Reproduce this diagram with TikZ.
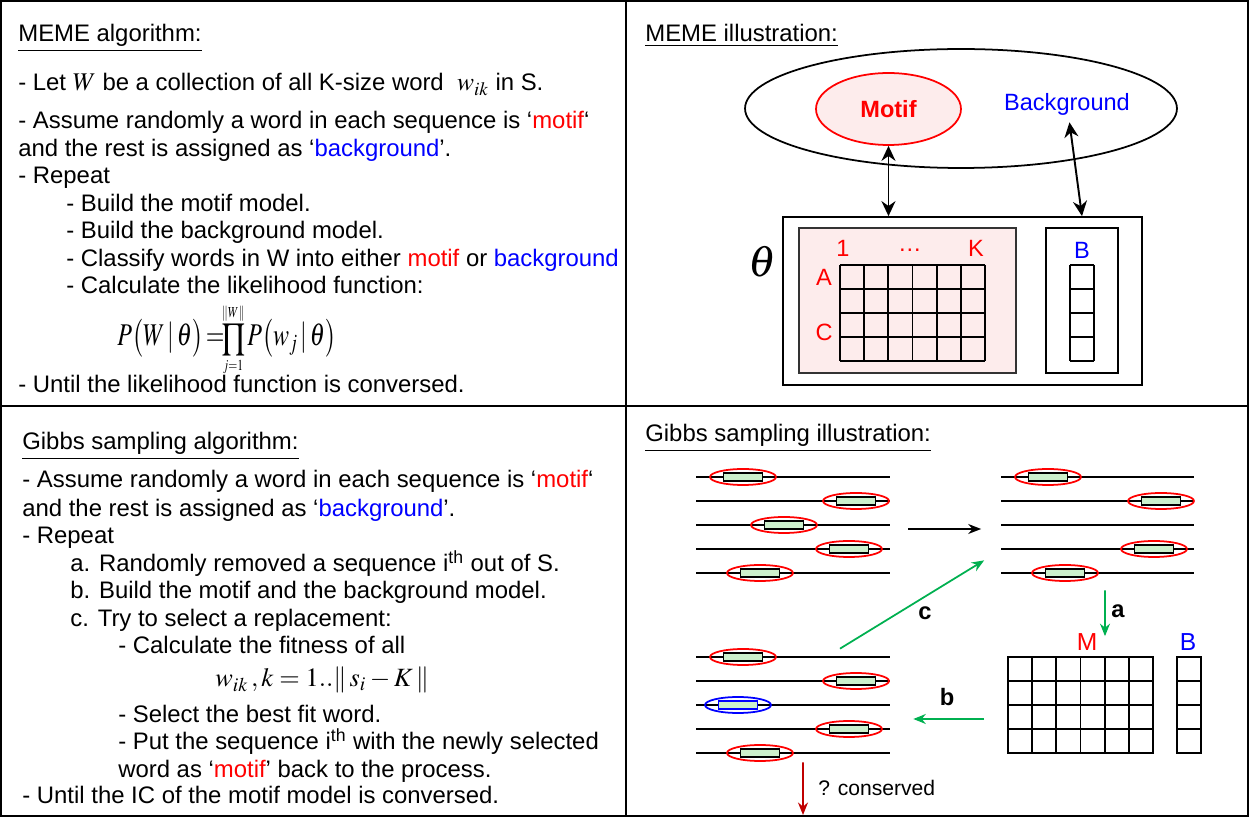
\documentclass[tikz,border=0pt]{standalone}
\usepackage{mathptmx}
\usepackage[no-math]{fontspec}
\setmainfont{Liberation Sans}
\usepackage{xcolor}
\usepackage{graphicx}
\usetikzlibrary{arrows.meta,shapes.geometric,positioning}
\definecolor{motifred}{RGB}{255,0,0}
\definecolor{bgblue}{RGB}{0,0,255}
\definecolor{arrgreen}{RGB}{0,176,80}
\definecolor{arrdark}{RGB}{192,0,0}
\definecolor{pinkfill}{RGB}{253,236,236}
\definecolor{wordfill}{RGB}{204,240,204}
\newcommand{\mtf}[1]{\textcolor{motifred}{#1}}
\newcommand{\bkg}[1]{\textcolor{bgblue}{#1}}
\newcommand{\smath}[1]{{\fontsize{14.5}{15}\selectfont$#1$}}
\tikzset{
  frame/.style    = {line width=1.2pt},
  txt/.style      = {anchor=base west, inner sep=0pt, font=\fontsize{13.6}{16}\selectfont},
  lbl/.style      = {inner sep=0pt, font=\fontsize{13.4}{14}\selectfont},
  abc/.style      = {inner sep=0pt, font=\bfseries\fontsize{13.5}{14}\selectfont},
  cell/.style     = {line width=1pt},
  bigell/.style   = {ellipse, draw, line width=1pt, minimum width=8.64cm, minimum height=2.38cm, inner sep=0pt},
  motifell/.style = {ellipse, draw=motifred, fill=pinkfill, line width=1pt, minimum width=2.9cm,
                     minimum height=1.44cm, inner sep=0pt, text=motifred, font=\bfseries\fontsize{13.4}{14}\selectfont},
  box/.style      = {draw, line width=1pt, inner sep=0pt},
  seqline/.style  = {line width=0.95pt},
  ring/.style     = {ellipse, draw=motifred, line width=1pt, minimum width=1.32cm, minimum height=0.32cm, inner sep=0pt},
  word/.style     = {draw, fill=wordfill, line width=1pt, minimum width=0.78cm, minimum height=0.15cm, inner sep=0pt},
  group/.style    = {inner sep=0pt, minimum width=3.88cm, minimum height=2.4cm},
  dbl/.style      = {{Stealth[length=3mm,width=2.8mm]}-{Stealth[length=3mm,width=2.8mm]}, line width=1.1pt},
  karrow/.style   = {-{Stealth[length=2.6mm,width=2mm]}, line width=1pt},
  garrow/.style   = {-{Stealth[length=2.5mm,width=2mm]}, line width=1pt, arrgreen},
  rarrow/.style   = {-{Stealth[length=2.5mm,width=2mm]}, line width=1pt, arrdark},
}
\begin{document}
\begin{tikzpicture}[x=0.02cm, y=-0.02cm]
  \useasboundingbox (0,0) rectangle (1249,817);
  \draw[frame] (1,1) rectangle (1248,816);
  \draw[frame] (626,1) -- (626,816);
  \draw[frame] (1,406) -- (1248,406);

  % MEME algorithm
  \node[txt] (mh)  at (18,42)  {\underline{MEME algorithm:}};
  \node[txt] (m1)  at (18,91)  {- Let \smath{W} be a collection of all K-size word \ \smath{w_{ik}} in S.};
  \node[txt] (m2)  at (18,129) {- Assume randomly a word in each sequence is ‘\mtf{motif}‘};
  \node[txt] (m3)  at (18,157) {and the rest is assigned as ‘\bkg{background}’.};
  \node[txt] (m4)  at (18,184) {- Repeat};
  \node[txt] (m5)  at (66,212) {- Build the motif model.};
  \node[txt] (m6)  at (66,239) {- Build the background model.};
  \node[txt] (m7)  at (66,267) {- Classify words in W into either \mtf{motif} or \bkg{background}};
  \node[txt] (m8)  at (66,294) {- Calculate the likelihood function:};
  \node[txt] (m9)  at (117,346) {\scalebox{0.76}[1]{\fontsize{18}{18}\selectfont$P\bigl(W\,|\,\theta\bigr)\!=\!$%
    {\fontsize{14.5}{15}\selectfont$\displaystyle\prod_{\scriptscriptstyle j=1}^{\scriptscriptstyle\|W\|}$}%
    $\,P\bigl(w_j\,|\,\theta\bigr)$}};
  \node[txt] (m10) at (18,393) {- Until the likelihood function is conversed.};

  % Gibbs sampling algorithm
  \node[txt] (gh)  at (22,450) {\underline{Gibbs sampling algorithm:}};
  \node[txt] (g1)  at (22,488) {- Assume randomly a word in each sequence is ‘\mtf{motif}‘};
  \node[txt] (g2)  at (22,517) {and the rest is assigned as ‘\bkg{background}’.};
  \node[txt] (g3)  at (22,544) {- Repeat};
  \node[txt] (g4)  at (70,572) {a. Randomly removed a sequence i\textsuperscript{th} out of S.};
  \node[txt] (g5)  at (70,599) {b. Build the motif and the background model.};
  \node[txt] (g6)  at (70,627) {c. Try to select a replacement:};
  \node[txt] (g7)  at (118,654) {- Calculate the fitness of all};
  \node[txt] (g8)  at (215,687) {\fontsize{15}{15}\selectfont$w_{ik}\,,k=1..\|\,s_i-K\,\|$};
  \node[txt] (g9)  at (118,723) {- Select the best fit word.};
  \node[txt] (g10) at (118,750) {- Put the sequence i\textsuperscript{th} with the newly selected};
  \node[txt] (g11) at (118,778) {word as ‘\mtf{motif}’ back to the process.};
  \node[txt] (g12) at (22,804) {- Until the IC of the motif model is conversed.};

  % MEME illustration
  \node[txt] (ih) at (645,42) {\underline{MEME illustration:}};
  \node[bigell] (pop) at (961,108.5) {};
  \node[motifell] (motif) at (888.5,109) {Motif};
  \node[lbl, inner sep=2pt, text=bgblue] (bg) at (1067,104) {Background};
  \node[box, minimum width=7.18cm, minimum height=3.36cm] (tbox) at (962.5,301) {};
  \node[box, draw=black!80, fill=pinkfill, minimum width=4.34cm, minimum height=2.9cm] (mbox) at (907.5,300.5) {};
  \node[box, minimum width=1.44cm, minimum height=2.9cm] (bbox) at (1082,300.5) {};
  \node[inner sep=0pt, font=\fontsize{25}{25}\selectfont] (theta) at (762,262) {$\theta$};
  \node[lbl, text=motifred] (c1) at (843,248) {1};
  \node[lbl, text=motifred] (cd) at (910,250) {\dots};
  \node[lbl, text=motifred] (ck) at (976,248) {K};
  \node[lbl, text=motifred] (ra) at (824,277) {A};
  \node[lbl, text=motifred] (rc) at (824,332) {C};
  \node[lbl, text=bgblue]   (bl) at (1082,250) {B};
  \begin{scope}[shift={(840,265)}]
    \foreach \i in {0,...,6} \draw[cell] (\i*24.17,0) -- (\i*24.17,96);
    \foreach \j in {0,...,4} \draw[cell] (0,\j*24) -- (145,\j*24);
  \end{scope}
  \begin{scope}[shift={(1070,265)}]
    \foreach \j in {0,...,4} \draw[cell] (0,\j*24) -- (24,\j*24);
    \draw[cell] (0,0) -- (0,96) (24,0) -- (24,96);
  \end{scope}
  \draw[dbl] (motif) -- (motif |- tbox.north);
  \draw[dbl, shorten <=2pt] (bg) -- (bbox |- tbox.north);

  % Gibbs sampling illustration
  \node[txt] (sh) at (645,442) {\underline{Gibbs sampling illustration:}};
  \node[group] (grpA) at (793,525) {};
  \node[group] (grpB) at (1097.5,525) {};
  \node[group] (grpC) at (793,705) {};
  \foreach \y in {477,501,525,549,573} {
    \draw[seqline] (696,\y) -- (890,\y);
    \draw[seqline] (1001,\y) -- (1194,\y);
  }
  \foreach \y in {657,681,705,729,753} \draw[seqline] (696,\y) -- (890,\y);
  \foreach \x/\y [count=\k] in {743/477,856/501,784/525,849/549,760/573} {
    \node[ring] (ea\k) at (\x,\y) {};
    \node[word] (wa\k) at (\x,\y) {};
  }
  \foreach \x/\y [count=\k] in {1048/477,1161/501,1154/549,1065/573} {
    \node[ring] (eb\k) at (\x,\y) {};
    \node[word] (wb\k) at (\x,\y) {};
  }
  \foreach \x/\y [count=\k] in {743/657,856/681,849/729,760/753} {
    \node[ring] (ec\k) at (\x,\y) {};
    \node[word] (wc\k) at (\x,\y) {};
  }
  \node[ring, draw=bgblue] (ecb) at (738,705) {};
  \node[word, draw=bgblue] (wcb) at (738,705) {};

  \node[box, minimum width=2.9cm, minimum height=1.92cm] (mgrid) at (1080.5,705) {};
  \begin{scope}[shift={(1008,657)}]
    \foreach \i in {1,...,5} \draw[cell] (\i*24.17,0) -- (\i*24.17,96);
    \foreach \j in {1,...,3} \draw[cell] (0,\j*24) -- (145,\j*24);
  \end{scope}
  \node[box, minimum width=0.48cm, minimum height=1.92cm] (bgrid) at (1189,705) {};
  \foreach \j in {1,...,3} \draw[cell] (1177,657+\j*24) -- (1201,657+\j*24);
  \node[lbl, text=motifred, font=\fontsize{14}{15}\selectfont] (ml) at (1087,642) {M};
  \node[lbl, text=bgblue, font=\fontsize{14}{15}\selectfont]   (bl2) at (1188,642) {B};

  \draw[karrow, shorten <=0.36cm, shorten >=0.38cm] ([yshift=-0.08cm]grpA.east) -- ([yshift=-0.08cm]grpB.west);
  \draw[garrow, shorten <=0.1cm] ([xshift=0.15cm]grpB.south) -- ([xshift=0.49cm,yshift=0.4cm]mgrid.north);
  \draw[garrow, shorten <=0.46cm, shorten >=0.46cm] ([yshift=-0.28cm]mgrid.west) -- ([yshift=-0.28cm]grpC.east);
  \draw[garrow] ([xshift=0.94cm,yshift=-0.08cm]grpC.north) -- ([shift={(-0.32cm,0.5cm)}]grpB.south west);
  \node[abc] (la) at (1118,611) {a};
  \node[abc] (lb) at (947,697) {b};
  \node[abc] (lc) at (925,613) {c};
  \coordinate (out) at (803,815);
  \draw[rarrow, shorten <=-0.06cm] ([xshift=0.2cm]grpC.south) -- (out);
  \node[lbl, anchor=west, font=\fontsize{12}{12}\selectfont] (cons) at (818,788) {? conserved};
\end{tikzpicture}
\end{document}
